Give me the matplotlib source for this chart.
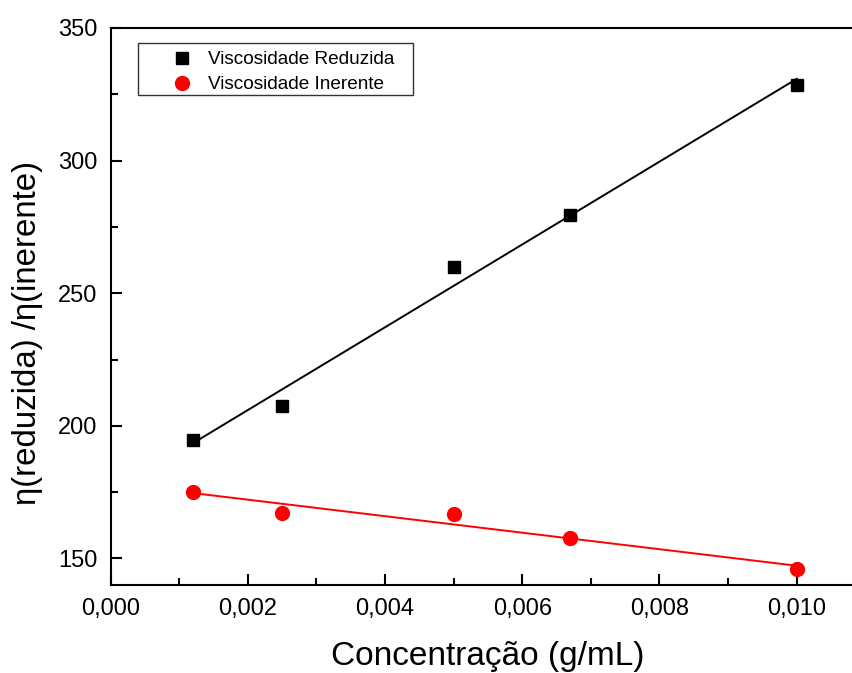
import numpy as np
import matplotlib
matplotlib.use("Agg")
import matplotlib.pyplot as plt
from matplotlib.ticker import MultipleLocator, FuncFormatter
from matplotlib.patches import Rectangle

plt.rcParams['font.family'] = ['Liberation Sans', 'DejaVu Sans']

conc = [0.0012, 0.0025, 0.005, 0.0067, 0.010]
visc_reduzida = [194.8, 207.3, 260.0, 279.6, 328.5]
visc_inerente = [175.2, 167.3, 166.6, 157.9, 145.9]
labels = ["Viscosidade Reduzida", "Viscosidade Inerente"]

W, H = 853, 673
fig = plt.figure(figsize=(W / 100, H / 100), dpi=100)
left, right, top, bottom = 110.7, 865.3, 28, 585
ax = fig.add_axes([left / W, 1 - bottom / H, (right - left) / W, (bottom - top) / H])

x = np.array(conc)
for y, color, marker, ms, lab in [
    (visc_reduzida, 'black', 's', 9, labels[0]),
    (visc_inerente, 'red', 'o', 10, labels[1]),
]:
    y = np.array(y)
    ax.plot(x, y, linestyle='none', marker=marker, color=color, markersize=ms, label=lab, zorder=3)
    p = np.polyfit(x, y, 1)
    xx = np.array([x.min(), x.max()])
    ax.plot(xx, np.polyval(p, xx), color=color, linewidth=1.4, zorder=2)

ax.set_xlim(0, 0.011)
ax.set_ylim(140, 350)
ax.xaxis.set_major_locator(MultipleLocator(0.002))
ax.xaxis.set_minor_locator(MultipleLocator(0.001))
ax.yaxis.set_major_locator(MultipleLocator(50))
ax.yaxis.set_minor_locator(MultipleLocator(25))
ax.xaxis.set_major_formatter(FuncFormatter(lambda v, p: f"{v:.3f}".replace('.', ',')))
ax.yaxis.set_major_formatter(FuncFormatter(lambda v, p: f"{v:.0f}"))

ax.tick_params(which='major', direction='in', length=8, width=1.5, labelsize=17, pad=9.5)
ax.tick_params(which='minor', direction='in', length=5, width=1.5)
ax.tick_params(top=False, right=False, which='both')
for s in ax.spines.values():
    s.set_linewidth(1.5)

ax.set_xlabel("Concentração (g/mL)", fontsize=24, labelpad=15)
ax.set_ylabel("η(reduzida) /η(inerente)", fontsize=23.8, labelpad=10)
ax.yaxis.set_label_coords(-0.0897, 0.452)

def ax_frac(px, py):
    return ((px - left) / (right - left), 1 - (py - top) / (bottom - top))

# legend frame
fx0, fy1 = ax_frac(138.3, 43.3)
fx1, fy0 = ax_frac(412.7, 95)
ax.add_patch(Rectangle((fx0, fy0), fx1 - fx0, fy1 - fy0, transform=ax.transAxes,
                       facecolor='white', edgecolor='#333333', linewidth=1.0, zorder=4))

fs = 13.7
em = fs * 100 / 72
hl = 1.0
ax_anchor = ax_frac(181.7 - hl * em / 2, 51)
leg = ax.legend(loc='upper left', bbox_to_anchor=ax_anchor,
                fontsize=fs, frameon=False, handlelength=hl, handletextpad=0.9,
                borderpad=0, labelspacing=0.4, borderaxespad=0)
leg.set_zorder(5)

fig.savefig("out.png", dpi=100)
